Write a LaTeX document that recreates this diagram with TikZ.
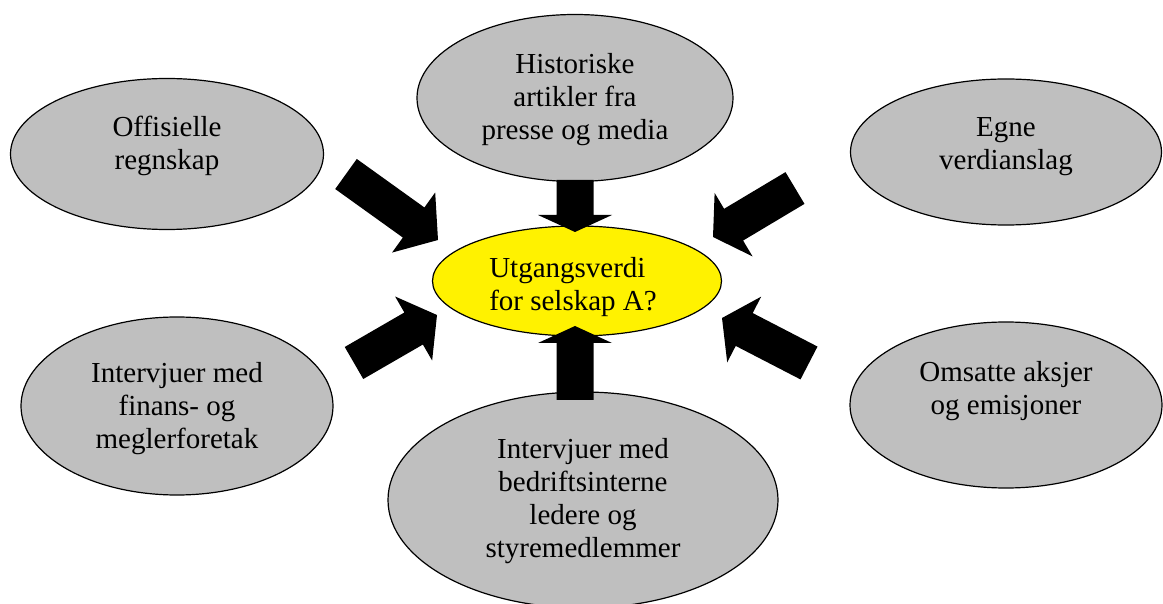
\documentclass[tikz,border=0pt]{standalone}
\usepackage{fontspec}
\setmainfont{Liberation Serif}
\usetikzlibrary{shapes.geometric,calc}
\tikzset{%
  source/.style = {shape=ellipse, draw, line width=0.6pt,%
                   fill=black!25, inner sep=0pt},%
  goal/.style   = {source, fill=yellow},%
  txt/.style    = {align=center, inner sep=0pt,%
                   font=\fontsize{14.5}{16.5}\selectfont}%
}
% block arrow: tail, tip, head length
\newcommand{\blockarrow}[3]{%
  \coordinate (ba-h) at ($(#2)!#3!(#1)$);
  \fill[black] ($(#1)!9.25pt!90:(#2)$) -- ($(ba-h)!9.25pt!90:(#2)$)
    -- ($(ba-h)!18.5pt!90:(#2)$) -- (#2) -- ($(ba-h)!18.5pt!-90:(#2)$)
    -- ($(ba-h)!9.25pt!-90:(#2)$) -- ($(#1)!9.25pt!-90:(#2)$) -- cycle;}
\begin{document}
\begin{tikzpicture}[x=0.5pt,y=-0.5pt]
	\useasboundingbox (0,0) rectangle (1163,604);
	% sources
	\node [source, minimum width=156.5pt, minimum height=75.5pt] (regn) at (167,154) {};
	\node [source, minimum width=158pt, minimum height=83.5pt] (hist) at (575,98) {};
	\node [source, minimum width=155.5pt, minimum height=73pt] (egne) at (1006,152) {};
	\node [source, minimum width=156pt, minimum height=89pt] (finans) at (177,406) {};
	\node [source, minimum width=195pt, minimum height=108pt] (intern) at (583,500) {};
	\node [source, minimum width=156pt, minimum height=83pt] (oms) at (1006,405) {};
	\node [goal, minimum width=144.5pt, minimum height=55pt] (verdi) at (577,281) {};
	\node [txt] (regn-txt) at (167,146) {Offisielle\\regnskap};
	\node [txt] (hist-txt) at (575,100) {Historiske\\artikler fra\\presse og media};
	\node [txt] (egne-txt) at (1006,147) {Egne\\verdianslag};
	\node [txt] (finans-txt) at (177,409) {Intervjuer med\\finans- og\\meglerforetak};
	\node [txt] (intern-txt) at (583,501) {Intervjuer med\\bedriftsinterne\\ledere og\\styremedlemmer};
	\node [txt] (oms-txt) at (1006,391) {Omsatte aksjer\\og emisjoner};
	\node [txt, align=left] (verdi-txt) at (573,287) {Utgangsverdi\\for selskap A?};
	% arrows
	\coordinate (regn-tail) at (346,174);   \coordinate (regn-tip) at (438,240);
	\coordinate (hist-tail) at (575,180);   \coordinate (hist-tip) at (575,232);
	\coordinate (egne-tail) at (795,188);   \coordinate (egne-tip) at (713,237);
	\coordinate (finans-tail) at (354,363); \coordinate (finans-tip) at (437,315);
	\coordinate (intern-tail) at (575,400); \coordinate (intern-tip) at (575,326);
	\coordinate (oms-tail) at (809,363);    \coordinate (oms-tip) at (722,318);
	\blockarrow{regn-tail}{regn-tip}{15pt}
	\blockarrow{hist-tail}{hist-tip}{8.5pt}
	\blockarrow{egne-tail}{egne-tip}{12pt}
	\blockarrow{finans-tail}{finans-tip}{13.5pt}
	\blockarrow{intern-tail}{intern-tip}{8.5pt}
	\blockarrow{oms-tail}{oms-tip}{12.5pt}
\end{tikzpicture}
\end{document}
